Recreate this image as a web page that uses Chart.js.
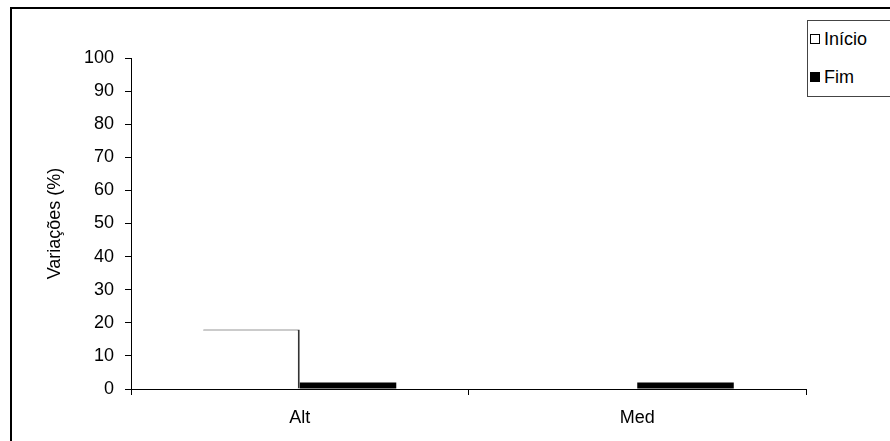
<!DOCTYPE html>
<html>
<head>
<meta charset="utf-8">
<script src="https://cdn.jsdelivr.net/npm/chart.js@4"></script>
<style>
  body { margin: 0; background: #fff; }
  #wrap { position: relative; width: 890px; height: 441px; overflow: hidden; }
  #frame { position: absolute; left: 10px; top: 7px; width: 900px; height: 450px; border: 2px solid #000; box-sizing: border-box; }
  #legend { position: absolute; left: 807px; top: 20px; width: 100px; height: 77px; border: 1px solid #444; background: #fff;
    font-family: "Liberation Sans", Arial, sans-serif; font-size: 18px; line-height: 20px; color: #000; box-sizing: border-box; }
  #legend div { position: absolute; left: 2px; white-space: nowrap; }
  #legend span { display: inline-block; width: 8px; height: 8px; border: 1px solid #000; margin-right: 4px; vertical-align: 1px; }
  canvas { position: absolute; left: 0; top: 0; }
</style>
</head>
<body>
<div id="wrap">
  <div id="frame"></div>
  <canvas id="myChart" width="890" height="441"></canvas>
  <div id="legend"></div>
</div>
<script>
const categories = ['Alt', 'Med']
const inicio = [18, 0]
const fim = [2, 2]
const seriesNames = ['Início', 'Fim']
const yTicks = [0, 10, 20, 30, 40, 50, 60, 70, 80, 90, 100]

const ctx = document.getElementById('myChart')
const font = { family: '"Liberation Sans", Arial, sans-serif', size: 18 }

new Chart(ctx, {
    type: 'bar',
    data: {
        labels: categories,
        datasets: [{
            label: seriesNames[0],
            data: inicio,
            backgroundColor: '#fff',
            borderColor: '#333',
            borderWidth: { top: 1, right: 2, left: 0, bottom: 0 },
            borderSkipped: false
        }, {
            label: seriesNames[1],
            data: fim,
            backgroundColor: '#000',
            borderWidth: 0
        }]
    },
    options: {
        responsive: false,
        animation: false,
        layout: { padding: { top: 58, right: 84, left: 0, bottom: 0 } },
        plugins: { legend: { display: false }, tooltip: { enabled: false } },
        datasets: { bar: { categoryPercentage: 0.572, barPercentage: 1 } },
        scales: {
            x: {
                grid: { offset: true, drawOnChartArea: false, tickLength: 6, color: '#000' },
                border: { color: '#000', width: 1 },
                ticks: { color: '#000', font: font, padding: 12 },
                afterFit: (a) => { a.height = 52 }
            },
            y: {
                min: 0,
                max: 100,
                afterBuildTicks: (a) => { a.ticks = yTicks.map(v => ({ value: v })) },
                grid: { drawOnChartArea: false, tickLength: 6, color: '#000' },
                border: { color: '#000', width: 1 },
                ticks: { color: '#000', font: font, padding: 11 },
                title: { display: true, text: 'Variações (%)', color: '#000', font: font, padding: { top: 44, bottom: 0 } },
                afterFit: (a) => { a.width = 131 }
            }
        }
    }
})

// legend box drawn from the series names
const legend = document.getElementById('legend')
seriesNames.forEach((name, i) => {
    const d = document.createElement('div')
    d.style.top = (i === 0 ? 8 : 46) + 'px'
    const sw = document.createElement('span')
    sw.style.background = i === 0 ? '#fff' : '#000'
    d.appendChild(sw)
    d.appendChild(document.createTextNode(name))
    legend.appendChild(d)
})
</script>
</body>
</html>
